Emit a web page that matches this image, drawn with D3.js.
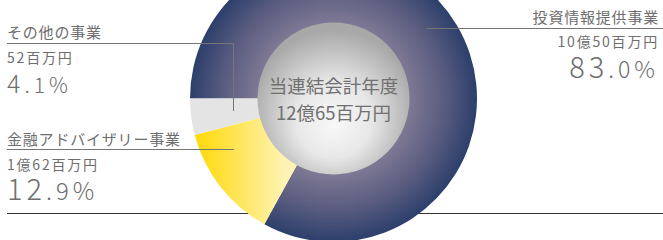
<!DOCTYPE html>
<html>
<head>
<meta charset="utf-8">
<script src="https://cdn.jsdelivr.net/npm/d3@7"></script>
<style>
  html, body { margin: 0; padding: 0; background: #fff; }
  svg { display: block; font-family: "Noto Sans CJK JP", "Noto Sans", sans-serif; }
  .lbl { fill: #6e6e6e; }
</style>
</head>
<body>
<svg id="chart" width="663" height="240"></svg>
<script>
const categories = ['投資情報提供事業', '金融アドバイザリー事業', 'その他の事業'];
const amounts = ['10億50百万円', '1億62百万円', '52百万円'];
const shares = [83.0, 12.9, 4.1];
const centerTitle = '当連結会計年度';
const centerTotal = '12億65百万円';

const width = 663;
const height = 240;
const cx = 333.5;
const cy = 98.5;
const outerR = 143.5;
const innerR = 76;

const svg = d3.select('#chart').attr('viewBox', `0 0 ${width} ${height}`);
const defs = svg.append('defs');

// gradients live in the pie group's coordinates (origin = pie centre)
const navy = defs.append('radialGradient').attr('id', 'g-navy').attr('gradientUnits', 'userSpaceOnUse')
  .attr('cx', 0).attr('cy', 0).attr('r', outerR);
[[0, '#8a86a0'], [0.53, '#7e7894'], [0.78, '#585b7f'], [1, '#2c3f6b']].forEach(([o, c]) => navy.append('stop').attr('offset', o).attr('stop-color', c));

const yellow = defs.append('linearGradient').attr('id', 'g-yellow').attr('gradientUnits', 'userSpaceOnUse')
  .attr('x1', 192 - cx).attr('x2', 285 - cx).attr('y1', 0).attr('y2', 0);
[[0, '#ffd800'], [1, '#fff3b4']].forEach(([o, c]) => yellow.append('stop').attr('offset', o).attr('stop-color', c));

const hub = defs.append('radialGradient').attr('id', 'g-hub').attr('cx', '50%').attr('cy', '60%').attr('r', '55%').attr('fx', '50%').attr('fy', '68%');
[[0, '#f8f8f8'], [0.45, '#e8e8e8'], [1, '#a8a8a8']].forEach(([o, c]) => hub.append('stop').attr('offset', o).attr('stop-color', c));

const fills = ['url(#g-navy)', 'url(#g-yellow)', '#e4e4e4'];

// baseline rule under the pie
svg.append('line').attr('x1', 7).attr('x2', width).attr('y1', 213.5).attr('y2', 213.5).attr('stroke', '#333').attr('stroke-width', 1);

const pie = d3.pie().sort(null).startAngle(-Math.PI / 2).endAngle(Math.PI * 1.5);
const arc = d3.arc().innerRadius(0).outerRadius(outerR);

svg.append('g').attr('transform', `translate(${cx},${cy})`)
  .selectAll('path')
  .data(pie(shares))
  .join('path')
  .attr('d', arc)
  .attr('fill', (d, i) => fills[i]);

svg.append('circle').attr('cx', cx).attr('cy', cy).attr('r', innerR).attr('fill', 'url(#g-hub)');

svg.append('text').attr('x', cx).attr('y', 93).attr('text-anchor', 'middle').attr('font-size', 18.5).attr('fill', '#707070').text(centerTitle);
svg.append('text').attr('x', cx).attr('y', 120).attr('text-anchor', 'middle').attr('font-size', 18.5).attr('fill', '#707070').text(centerTotal);

// callout lines
const lineColor = '#757575';
svg.append('path').attr('d', 'M427,28.5H663').attr('stroke', lineColor).attr('fill', 'none');
svg.append('path').attr('d', 'M7,43.5H233.5V111').attr('stroke', lineColor).attr('fill', 'none');
svg.append('path').attr('d', 'M7,149.5H234').attr('stroke', lineColor).attr('fill', 'none');

function pctText(sel, value, bigSize, smallSize) {
  const [intPart, decPart] = value.toFixed(1).split('.');
  sel.append('tspan').attr('font-size', bigSize).text(intPart);
  sel.append('tspan').attr('font-size', smallSize).text(`.${decPart}%`);
}

const labels = [
  { i: 0, x: 659, anchor: 'end', y: [23, 47, 78], big: 29, small: 23 },
  { i: 1, x: 7, anchor: 'start', y: [145, 170, 200], big: 29, small: 24 },
  { i: 2, x: 7, anchor: 'start', y: [38, 63, 93], big: 25, small: 21 }
];

labels.forEach((l) => {
  const g = svg.append('g').attr('text-anchor', l.anchor);
  g.append('text').attr('class', 'lbl').attr('x', l.x).attr('y', l.y[0]).attr('font-size', 15).attr('letter-spacing', 0.8).text(categories[l.i]);
  g.append('text').attr('class', 'lbl').attr('x', l.x).attr('y', l.y[1]).attr('font-size', 14).attr('letter-spacing', 1.8).text(amounts[l.i]);
  const t = g.append('text').attr('class', 'lbl').attr('x', l.x).attr('y', l.y[2]).attr('letter-spacing', 4).attr('font-weight', 300);
  pctText(t, shares[l.i], l.big, l.small);
});
</script>
</body>
</html>
